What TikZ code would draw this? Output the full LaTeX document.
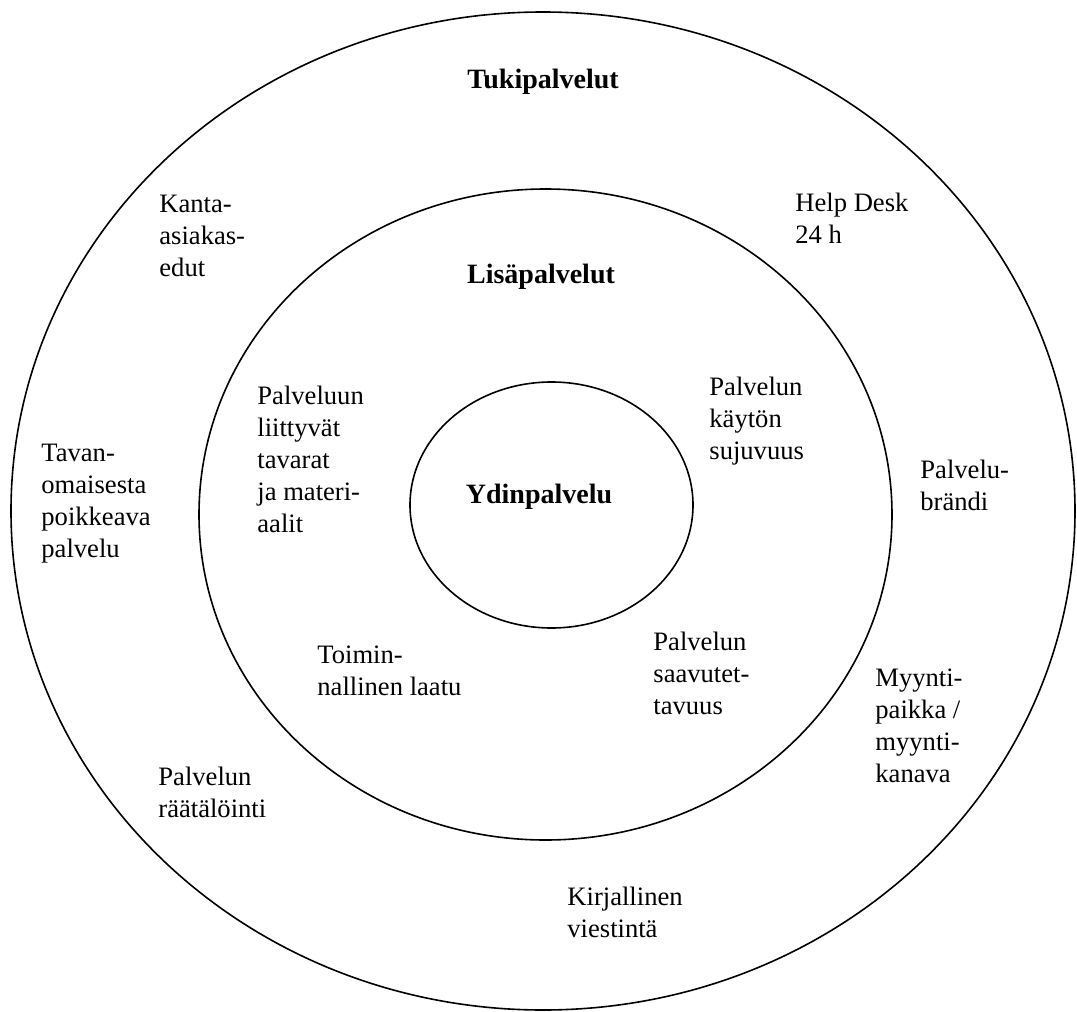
\documentclass[tikz,border=0pt]{standalone}
\usepackage{fontspec}
\setmainfont{Liberation Serif}
\usetikzlibrary{shapes.geometric}

\newcommand{\stack}[1]{\begin{tabular}[t]{@{}l@{}}#1\end{tabular}}

\tikzset{
  ring/.style={draw, ellipse, line width=0.8pt, inner sep=0pt},
  item/.style={anchor=base west, inner sep=0pt, font=\fontsize{13.3}{16}\selectfont},
  layer/.style={anchor=base, inner sep=0pt, font=\fontsize{14}{16}\selectfont\bfseries}
}

\begin{document}
\begin{tikzpicture}[x=0.5pt, y=-0.5pt]
	\useasboundingbox (0,0) rectangle (1077,1012);

	% the three layers
	\node[ring, minimum width=532pt, minimum height=499pt] (outer) at (543,511) {};
	\node[ring, minimum width=346.5pt, minimum height=325.5pt] (middle) at (545.5,514.5) {};
	\node[ring, minimum width=141.5pt, minimum height=123pt] (inner) at (551.5,505) {};

	\node[layer] (tuki) at (543,88) {Tukipalvelut};
	\node[layer] (lisa) at (541,283) {Lisäpalvelut};
	\node[layer] (ydin) at (539,503) {Ydinpalvelu};

	% outer ring
	\node[item] (kanta) at (159,212) {\stack{Kanta-\\asiakas-\\edut}};
	\node[item] (helpdesk) at (795,211) {\stack{Help Desk\\24 h}};
	\node[item] (tavan) at (41,461) {\stack{Tavan-\\omaisesta\\poikkeava\\palvelu}};
	\node[item] (brandi) at (920,478) {\stack{Palvelu-\\brändi}};
	\node[item] (myynti) at (875,686) {\stack{Myynti-\\paikka /\\myynti-\\kanava}};
	\node[item] (raatalointi) at (158,785) {\stack{Palvelun\\räätälöinti}};
	\node[item] (viestinta) at (567,905) {\stack{Kirjallinen\\viestintä}};

	% middle ring
	\node[item] (tavarat) at (257,404) {\stack{Palveluun\\liittyvät\\tavarat\\ja materi-\\aalit}};
	\node[item] (sujuvuus) at (709,395) {\stack{Palvelun\\käytön\\sujuvuus}};
	\node[item] (laatu) at (317,663) {\stack{Toimin-\\nallinen laatu}};
	\node[item] (saavutet) at (653,650) {\stack{Palvelun\\saavutet-\\tavuus}};
\end{tikzpicture}
\end{document}
